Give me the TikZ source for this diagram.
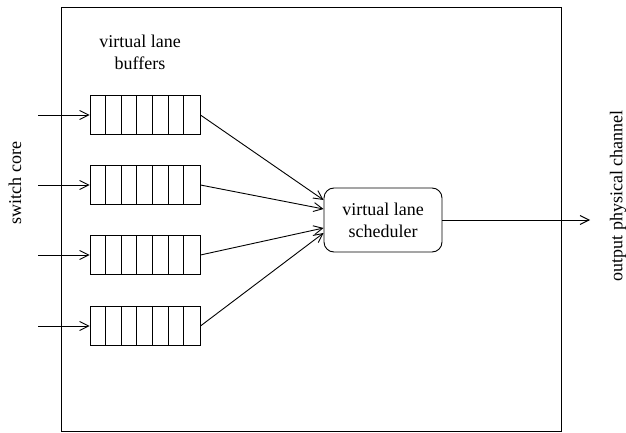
\documentclass[tikz,border=0pt]{standalone}
\usepackage{fontspec}
\setmainfont{Liberation Serif}
\usepackage{tikz}
\usetikzlibrary{arrows.meta}
\tikzstyle{buffer}=[draw, inner sep=0pt, minimum width=110pt, minimum height=39pt]
\tikzstyle{sched}=[draw, rounded corners=10pt, inner sep=0pt, minimum width=118pt, minimum height=64pt, align=center]
\tikzstyle{frame}=[draw, inner sep=0pt, minimum width=500pt, minimum height=424pt]
\tikzstyle{feed}=[-{Straight Barb[length=9pt, width=9pt]}]

\begin{document}
\begin{tikzpicture}[x=1pt, y=-1pt, line width=0.9pt, font=\fontsize{18}{22}\selectfont]
        \useasboundingbox (0,0) rectangle (626,433);
        \node[frame]                        (switch) at (311,219) {};
        \node[align=center]                 (bufname) at (140,52) {virtual lane\\buffers};
        \node[rotate=90]                    (core) at (15,183) {switch core};
        \node[rotate=90]                    (chan) at (618,196) {output physical channel};
        \node[buffer]                       (B1) at (145,115) {};
        \node[buffer]                       (B2) at (145,185) {};
        \node[buffer]                       (B3) at (145,255) {};
        \node[buffer]                       (B4) at (145,326) {};
        \node[sched]                        (S) at (383,220) {virtual lane\\scheduler};
        % cells of the buffers
        \foreach \b in {B1,B2,B3,B4}
            \foreach \k in {1,...,6}
                \draw ([xshift=\k*110pt/7]\b.north west) -- ([xshift=\k*110pt/7]\b.south west);
        \coordinate (in1) at (38,115);
        \coordinate (in2) at (38,185);
        \coordinate (in3) at (38,255);
        \coordinate (in4) at (38,326);
        \coordinate (out) at (590,220);
        \draw[feed] (in1) -- (B1.west);
        \draw[feed] (in2) -- (B2.west);
        \draw[feed] (in3) -- (B3.west);
        \draw[feed] (in4) -- (B4.west);
        \draw[feed] (B1.east) -- ([yshift=20pt]S.west);
        \draw[feed] (B2.east) -- ([yshift=11pt]S.west);
        \draw[feed] (B3.east) -- ([yshift=-8pt]S.west);
        \draw[feed] (B4.east) -- ([yshift=-13pt]S.west);
        \draw[feed] (S.east) -- (out);
    \end{tikzpicture}
\end{document}
